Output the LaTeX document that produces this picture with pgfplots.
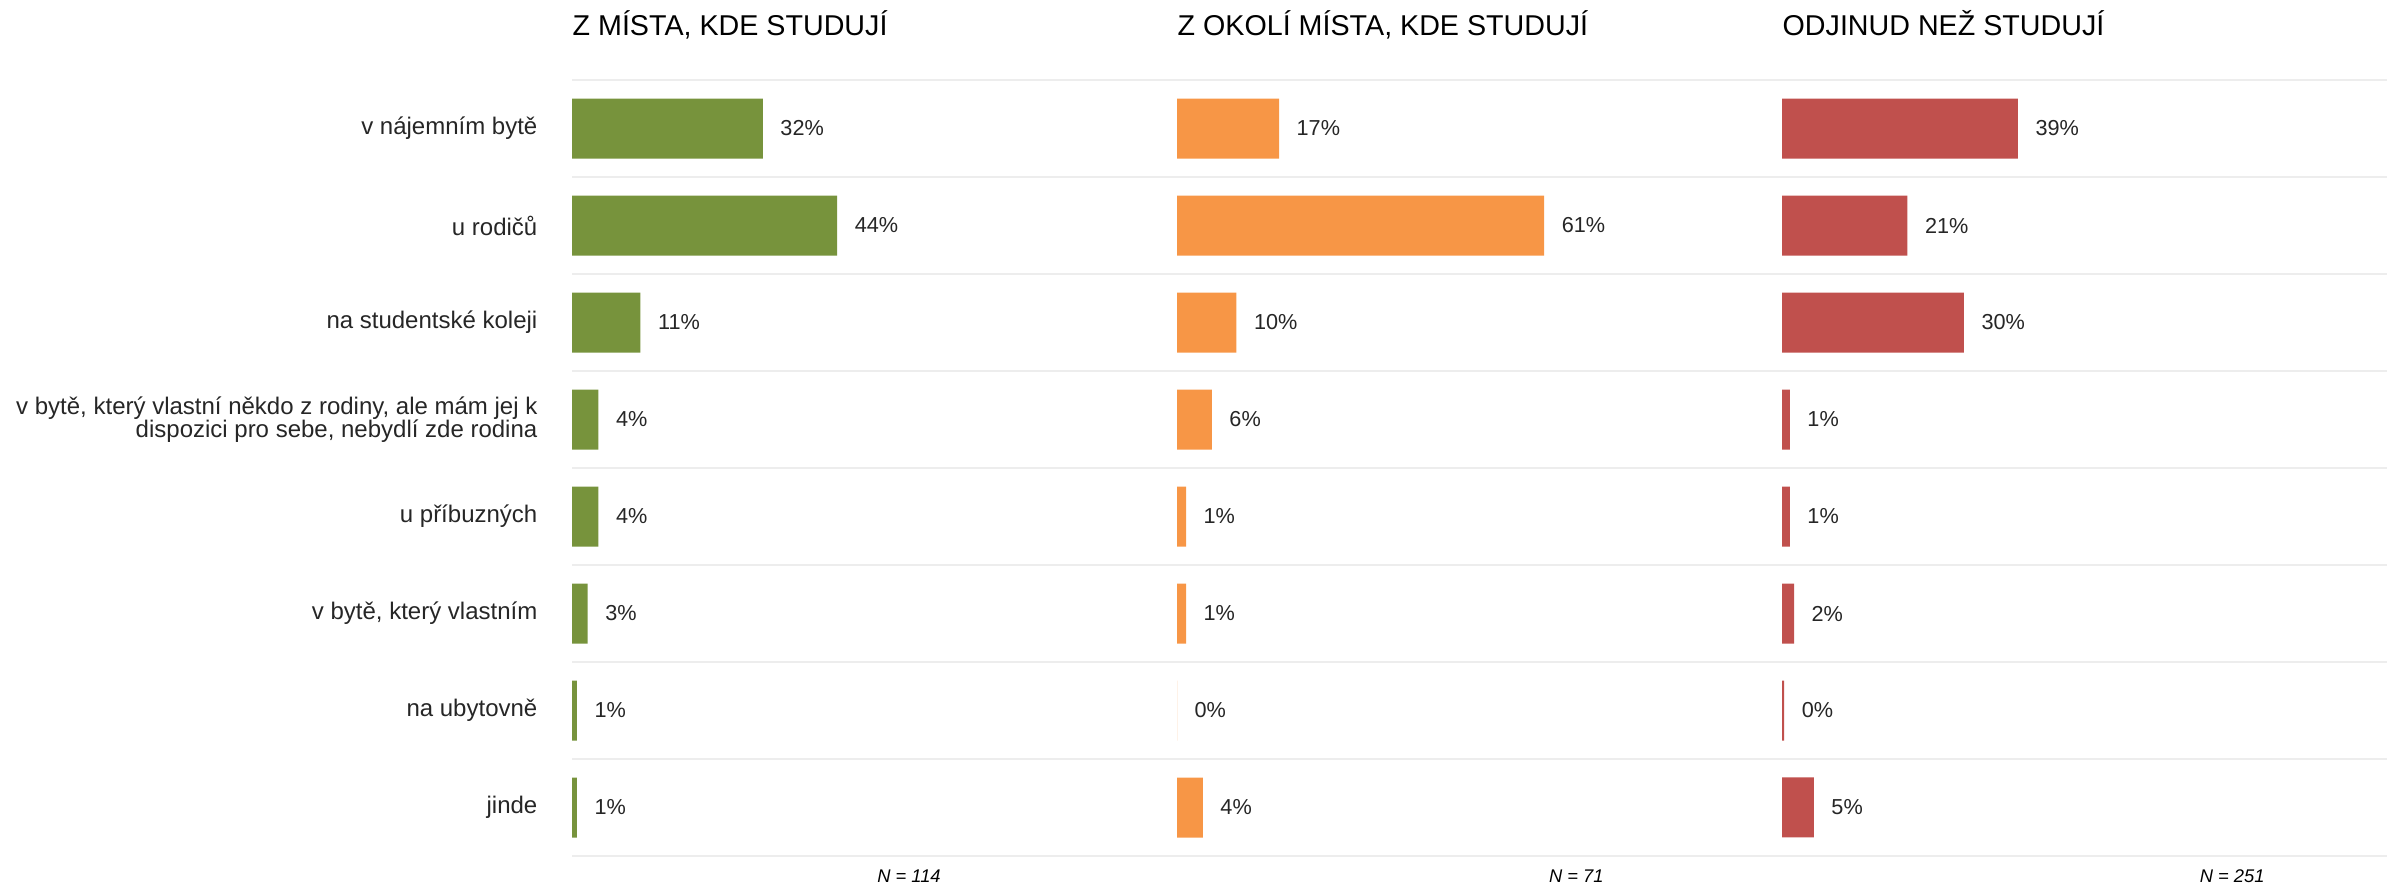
\documentclass[border=0pt]{standalone}
\usepackage{pgfplots}
\pgfplotsset{compat=1.18}
\usepackage{pgfplotstable}
\usepackage{fontspec}
\setmainfont{Liberation Sans}
\definecolor{cgreen}{HTML}{77933C}
\definecolor{corange}{HTML}{F79646}
\definecolor{cred}{HTML}{C0504D}
\definecolor{gridc}{HTML}{EDEDED}
\definecolor{txt}{HTML}{262626}

% r = row (0 = top), v = value in %, lab = printed label
\pgfplotstableread{
r v lab
0 31.8 32
1 44.2 44
2 11.4 11
3 4.4 4
4 4.4 4
5 2.6 3
6 0.83 1
7 0.83 1
}\tblA
\pgfplotstableread{
r v lab
0 17.0 17
1 61.2 61
2 9.9 10
3 5.8 6
4 1.5 1
5 1.5 1
6 0 0
7 4.3 4
}\tblB
\pgfplotstableread{
r v lab
0 39.3 39
1 20.9 21
2 30.3 30
3 1.3 1
4 1.3 1
5 2.0 2
6 0.35 0
7 5.3 5
}\tblC

\pgfplotsset{
  panel/.style={
    xbar, scale only axis,
    width=181.5pt, height=232.8pt,
    anchor=north west,
    xmin=0, xmax=100.83,
    ymin=-0.5, ymax=7.5, y dir=reverse,
    ytick={0,...,7},
    yticklabels={},
    minor ytick={-0.5,0.5,...,7.5},
    yminorgrids=true,
    minor grid style={draw=gridc, line width=0.8pt},
    xtick=\empty,
    major tick length=0pt, minor tick length=0pt,
    axis line style={draw=none},
    bar width=18pt,
    point meta=explicit symbolic,
    nodes near coords={\pgfplotspointmeta\%},
    nodes near coords style={anchor=west, inner sep=0pt, xshift=5.1pt,
      font=\fontsize{6.5}{7}\selectfont, text=txt},
    title style={at={(0,1)}, anchor=base west, yshift=7.5pt, inner sep=0pt,
      font=\fontsize{8.6}{10}\selectfont, text=black},
    xlabel style={anchor=base, inner sep=0pt, font=\fontsize{5.5}{6}\selectfont\itshape, text=black},
    clip=false,
  }
}

\begin{document}
\begin{tikzpicture}
\path[use as bounding box] (0,0) rectangle (719.1pt,-266.1pt);

\begin{axis}[panel, at={(171.6pt,-24pt)},
  title={Z MÍSTA, KDE STUDUJÍ},
  xlabel={N = 114},
  xlabel style={at={(axis description cs:0.557,0)}, yshift=-8.1pt},
  yticklabels={v nájemním bytě, u rodičů, na studentské koleji,
    {v bytě, který vlastní někdo z rodiny, ale mám jej k\\dispozici pro sebe, nebydlí zde rodina},
    u příbuzných, {v bytě, který vlastním}, na ubytovně, jinde},
  yticklabel style={anchor=east, align=right, inner sep=0pt, xshift=-10.2pt,
    font=\fontsize{7.2}{6.8}\selectfont, text=txt},
]
\addplot[fill=cgreen, draw=none] table[x=v, y=r, meta=lab] {\tblA};
\end{axis}

\begin{axis}[panel, at={(353.1pt,-24pt)},
  title={Z OKOLÍ MÍSTA, KDE STUDUJÍ},
  xlabel={N = 71},
  xlabel style={at={(axis description cs:0.660,0)}, yshift=-8.1pt},
]
\addplot[fill=corange, draw=none] table[x=v, y=r, meta=lab] {\tblB};
\end{axis}

\begin{axis}[panel, at={(534.6pt,-24pt)},
  title={ODJINUD NEŽ STUDUJÍ},
  xlabel={N = 251},
  xlabel style={at={(axis description cs:0.744,0)}, yshift=-8.1pt},
]
\addplot[fill=cred, draw=none] table[x=v, y=r, meta=lab] {\tblC};
\end{axis}
\end{tikzpicture}
\end{document}
